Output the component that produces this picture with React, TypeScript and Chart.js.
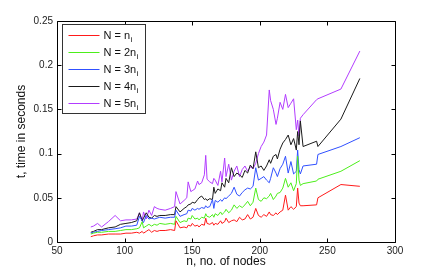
import React, { useEffect, useRef } from 'react';
import { Chart, registerables } from 'chart.js';

Chart.register(...registerables);

const nodes = [
  75, 77, 80, 83, 88, 93, 97, 101, 105, 109,
  111, 113, 114, 116, 118, 120, 122, 124, 126, 130,
  134, 137, 138, 141, 144, 146, 147, 149, 150, 152,
  154, 155, 157, 159, 160, 161, 163, 165, 166, 167,
  169, 171, 172, 174, 175, 177, 179, 181, 183, 185,
  187, 189, 191, 193, 195, 197, 199, 201, 203, 205,
  207, 208, 210, 212, 213, 215, 217, 219, 221, 223,
  225, 227, 228, 229, 230, 232, 242, 243, 260, 274,
];

const timeN1 = [
  0.006, 0.007, 0.008, 0.008, 0.009, 0.009, 0.009, 0.010, 0.010, 0.011,
  0.010, 0.012, 0.010, 0.012, 0.014, 0.011, 0.013, 0.012, 0.013, 0.013,
  0.014, 0.013, 0.024, 0.016, 0.017, 0.016, 0.019, 0.018, 0.021, 0.018,
  0.019, 0.017, 0.020, 0.019, 0.027, 0.021, 0.020, 0.022, 0.019, 0.021,
  0.020, 0.024, 0.021, 0.023, 0.027, 0.022, 0.024, 0.025, 0.023, 0.028,
  0.025, 0.026, 0.031, 0.026, 0.028, 0.038, 0.030, 0.028, 0.031, 0.029,
  0.034, 0.031, 0.030, 0.033, 0.031, 0.034, 0.036, 0.053, 0.036, 0.040,
  0.037, 0.040, 0.061, 0.044, 0.041, 0.041, 0.042, 0.050, 0.065, 0.063,
];

const timeN2 = [
  0.009, 0.010, 0.011, 0.011, 0.012, 0.012, 0.013, 0.014, 0.014, 0.015,
  0.016, 0.023, 0.016, 0.018, 0.020, 0.018, 0.020, 0.019, 0.021, 0.020,
  0.021, 0.020, 0.029, 0.022, 0.024, 0.023, 0.027, 0.026, 0.030, 0.026,
  0.027, 0.025, 0.028, 0.027, 0.032, 0.029, 0.028, 0.031, 0.028, 0.032,
  0.030, 0.034, 0.031, 0.034, 0.037, 0.033, 0.036, 0.042, 0.038, 0.041,
  0.039, 0.042, 0.046, 0.041, 0.045, 0.061, 0.048, 0.046, 0.050, 0.049,
  0.052, 0.055, 0.048, 0.052, 0.055, 0.056, 0.061, 0.072, 0.062, 0.067,
  0.058, 0.066, 0.097, 0.070, 0.064, 0.066, 0.069, 0.071, 0.080, 0.092,
];

const timeN3 = [
  0.010, 0.011, 0.012, 0.013, 0.014, 0.015, 0.016, 0.018, 0.018, 0.019,
  0.029, 0.024, 0.022, 0.030, 0.026, 0.027, 0.026, 0.027, 0.028, 0.027,
  0.028, 0.028, 0.036, 0.029, 0.031, 0.032, 0.036, 0.035, 0.038, 0.036,
  0.038, 0.037, 0.039, 0.038, 0.041, 0.039, 0.040, 0.048, 0.038, 0.047,
  0.045, 0.048, 0.046, 0.050, 0.049, 0.052, 0.055, 0.062, 0.054, 0.052,
  0.056, 0.059, 0.061, 0.060, 0.063, 0.084, 0.070, 0.072, 0.074, 0.070,
  0.067, 0.072, 0.084, 0.078, 0.074, 0.083, 0.088, 0.097, 0.078, 0.091,
  0.077, 0.080, 0.104, 0.082, 0.077, 0.086, 0.088, 0.099, 0.108, 0.118,
];

const timeN4 = [
  0.011, 0.012, 0.014, 0.014, 0.016, 0.017, 0.020, 0.021, 0.022, 0.024,
  0.033, 0.024, 0.027, 0.033, 0.028, 0.027, 0.030, 0.029, 0.030, 0.030,
  0.031, 0.031, 0.040, 0.034, 0.038, 0.040, 0.042, 0.043, 0.045, 0.044,
  0.048, 0.050, 0.052, 0.048, 0.049, 0.047, 0.049, 0.048, 0.062, 0.055,
  0.060, 0.058, 0.067, 0.062, 0.072, 0.067, 0.084, 0.074, 0.078, 0.076,
  0.073, 0.081, 0.078, 0.087, 0.083, 0.102, 0.084, 0.086, 0.081, 0.086,
  0.093, 0.089, 0.097, 0.099, 0.094, 0.105, 0.112, 0.116, 0.121, 0.110,
  0.117, 0.104, 0.125, 0.110, 0.137, 0.108, 0.114, 0.108, 0.139, 0.185,
];

const timeN5 = [
  0.017, 0.018, 0.021, 0.017, 0.023, 0.030, 0.024, 0.025, 0.025, 0.026,
  0.033, 0.024, 0.034, 0.026, 0.036, 0.030, 0.040, 0.038, 0.037, 0.036,
  0.038, 0.040, 0.057, 0.043, 0.047, 0.050, 0.068, 0.057, 0.058, 0.060,
  0.069, 0.065, 0.067, 0.076, 0.098, 0.071, 0.068, 0.066, 0.072, 0.070,
  0.064, 0.080, 0.068, 0.095, 0.074, 0.088, 0.070, 0.080, 0.086, 0.074,
  0.082, 0.086, 0.080, 0.085, 0.083, 0.089, 0.100, 0.108, 0.113, 0.121,
  0.172, 0.160, 0.150, 0.133, 0.140, 0.158, 0.150, 0.167, 0.152, 0.157,
  0.162, 0.127, 0.138, 0.120, 0.140, 0.144, 0.161, 0.162, 0.173, 0.216,
];

const seriesLabels = ['N = n_i', 'N = 2n_i', 'N = 3n_i', 'N = 4n_i', 'N = 5n_i'];
const seriesColors = ['#ff1a1a', '#4cee1a', '#3050ff', '#1a1a1a', '#b23cff'];
const seriesValues = [timeN1, timeN2, timeN3, timeN4, timeN5];

const xTitle = 'n, no. of nodes';
const yTitle = 't, time in seconds';

const FONT = '"Liberation Sans", Arial, Helvetica, sans-serif';

export default function App() {
  const ref = useRef<HTMLCanvasElement>(null);

  useEffect(() => {
    document.body.style.margin = '0';
    const canvas = ref.current;
    if (!canvas) return;

    const framePlugin = {
      id: 'matlabFrame',
      afterDatasetsDraw(chart: any) {
        const { ctx, chartArea, scales } = chart;
        const { left, right, top, bottom } = chartArea;
        ctx.save();
        ctx.strokeStyle = '#000';
        ctx.lineWidth = 1;
        const L = Math.round(left) + 0.5;
        const R = Math.round(right) + 0.5;
        const T = Math.round(top) + 0.5;
        const B = Math.round(bottom) + 0.5;
        ctx.beginPath();
        ctx.rect(L, T, R - L, B - T);
        ctx.stroke();
        const tl = 4;
        ctx.beginPath();
        scales.x.ticks.forEach((t: any) => {
          const px = Math.round(scales.x.getPixelForValue(t.value)) + 0.5;
          ctx.moveTo(px, B);
          ctx.lineTo(px, B - tl);
          ctx.moveTo(px, T);
          ctx.lineTo(px, T + tl);
        });
        scales.y.ticks.forEach((t: any) => {
          const py = Math.round(scales.y.getPixelForValue(t.value)) + 0.5;
          ctx.moveTo(L, py);
          ctx.lineTo(L + tl, py);
          ctx.moveTo(R, py);
          ctx.lineTo(R - tl, py);
        });
        ctx.stroke();

        // legend inside the plot area (top-left)
        const boxX = L + 5;
        const boxY = T + 3;
        const boxW = 83;
        const rowH = 17;
        const boxH = rowH * seriesLabels.length + 4;
        ctx.fillStyle = '#fff';
        ctx.fillRect(boxX, boxY, boxW, boxH);
        ctx.strokeStyle = '#333';
        ctx.strokeRect(boxX, boxY, boxW, boxH);
        chart.data.datasets.forEach((ds: any, i: number) => {
          const cy = Math.round(boxY + 10 + i * rowH) + 0.5;
          ctx.strokeStyle = ds.borderColor;
          ctx.lineWidth = 1;
          ctx.beginPath();
          ctx.moveTo(boxX + 6, cy);
          ctx.lineTo(boxX + 37, cy);
          ctx.stroke();
          const [main, sub] = String(ds.label).split('_');
          ctx.fillStyle = '#111';
          ctx.textBaseline = 'middle';
          ctx.textAlign = 'left';
          ctx.font = `11px ${FONT}`;
          ctx.fillText(main, boxX + 41, cy);
          const w = ctx.measureText(main).width;
          if (sub) {
            ctx.font = `8px ${FONT}`;
            ctx.fillText(sub, boxX + 41 + w + 0.5, cy + 4);
          }
        });
        ctx.restore();
      },
    };

    const chart = new Chart(canvas, {
      type: 'line',
      data: {
        datasets: seriesValues.map((vals, i) => ({
          label: seriesLabels[i],
          data: nodes.map((n, j) => ({ x: n, y: vals[j] })),
          borderColor: seriesColors[i],
          backgroundColor: seriesColors[i],
          borderWidth: 1,
          pointRadius: 0,
          tension: 0,
          fill: false,
        })),
      },
      options: {
        responsive: false,
        animation: false,
        devicePixelRatio: 1,
        layout: { padding: { top: 21, right: 41, left: 0, bottom: 0 } },
        plugins: {
          legend: { display: false },
          tooltip: { enabled: false },
        },
        scales: {
          x: {
            type: 'linear',
            min: 50,
            max: 300,
            ticks: {
              stepSize: 50,
              color: '#222',
              padding: 3,
              maxRotation: 0,
              font: { family: FONT, size: 10 },
            },
            grid: { display: false, drawTicks: false },
            border: { display: false },
            title: {
              display: true,
              text: xTitle,
              color: '#111',
              font: { family: FONT, size: 12 },
              padding: { top: 0, bottom: 4 },
            },
            afterFit: (s: any) => {
              s.height = 31;
            },
          },
          y: {
            type: 'linear',
            min: 0,
            max: 0.25,
            ticks: {
              stepSize: 0.05,
              color: '#222',
              padding: 4,
              font: { family: FONT, size: 10 },
              callback: (v: any) => String(Number(Number(v).toFixed(3))),
            },
            grid: { display: false, drawTicks: false },
            border: { display: false },
            title: {
              display: true,
              text: yTitle,
              color: '#111',
              font: { family: FONT, size: 12 },
              padding: { top: 14, bottom: 0 },
            },
            afterFit: (s: any) => {
              s.width = 57;
            },
          },
        },
      },
      plugins: [framePlugin],
    });

    return () => chart.destroy();
  }, []);

  return (
    <div style={{ width: 436, height: 273, background: '#fff' }}>
      <canvas ref={ref} width={436} height={273} style={{ display: 'block' }} />
    </div>
  );
}
